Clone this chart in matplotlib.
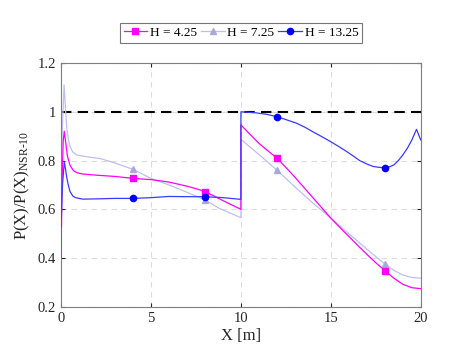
import matplotlib
matplotlib.use("Agg")
import matplotlib.pyplot as plt

plt.rcParams['font.family'] = ['Liberation Serif', 'DejaVu Serif']
plt.rcParams['mathtext.fontset'] = 'custom'
plt.rcParams['mathtext.rm'] = 'Liberation Serif'
plt.rcParams['mathtext.it'] = 'Liberation Serif'

x_h425 = [0, 0.05, 0.12, 0.18, 0.25, 0.35, 0.5, 0.7, 0.9, 1.2, 2, 3, 4, 5, 6, 7, 7.5, 8, 8.5, 9, 9.5, 10,
          10, 10.5, 11, 11.5, 12, 12.5, 13, 13.5, 14, 14.5, 15, 15.5, 16, 16.5, 17, 17.5, 18,
          18.5, 19, 19.5, 20]
y_h425 = [0.40, 0.70, 0.88, 0.92, 0.88, 0.82, 0.78, 0.758, 0.750, 0.745, 0.740, 0.735, 0.727,
          0.722, 0.712, 0.695, 0.685, 0.673, 0.655, 0.636, 0.618, 0.600,
          0.946, 0.908, 0.871, 0.84, 0.81, 0.772, 0.732, 0.69, 0.648, 0.606, 0.564, 0.526,
          0.489, 0.452, 0.416, 0.381, 0.349, 0.318, 0.293, 0.279, 0.275]

x_h725 = [0, 0.08, 0.17, 0.24, 0.31, 0.4, 0.5, 0.65, 0.87, 1.5, 2.2, 3, 4, 5, 6, 7, 8, 8.8, 10,
          10, 10.5, 11, 11.5, 12, 12.5, 13, 13.5, 14, 14.5, 15, 15.5, 16, 16.5, 17, 17.5, 18,
          18.5, 19, 19.5, 20]
y_h725 = [0.72, 0.95, 1.11, 1.02, 0.94, 0.89, 0.857, 0.835, 0.823, 0.815, 0.808, 0.79, 0.764,
          0.727, 0.70, 0.67, 0.639, 0.604, 0.566,
          0.887, 0.856, 0.825, 0.793, 0.761, 0.727, 0.692, 0.659, 0.626, 0.595, 0.564, 0.532,
          0.500, 0.469, 0.437, 0.406, 0.376, 0.35, 0.331, 0.321, 0.318]

x_h1325 = [0, 0.08, 0.18, 0.25, 0.31, 0.4, 0.5, 0.65, 0.8, 1.2, 2, 3, 4, 5, 6, 7, 8, 9, 10,
           10, 10.8, 11.4, 12, 12.5, 13.1, 13.6, 14, 14.5, 15, 15.5, 15.9, 16.3, 16.6, 17, 17.35,
           17.7, 18, 18.25, 18.5, 18.75, 19, 19.25, 19.5, 19.76, 19.94, 20]
y_h1325 = [0.53, 0.70, 0.795, 0.765, 0.734, 0.70, 0.673, 0.655, 0.648, 0.642, 0.643, 0.645,
           0.645, 0.648, 0.653, 0.652, 0.652, 0.648, 0.641,
           1.0, 0.996, 0.99, 0.98, 0.968, 0.953, 0.935, 0.918, 0.898, 0.877, 0.855, 0.836,
           0.816, 0.80, 0.786, 0.776, 0.772, 0.771, 0.774, 0.782, 0.8, 0.823, 0.85, 0.884,
           0.928, 0.895, 0.884]

marker_x = [4, 8, 12, 18]
labels = ['H = 4.25', 'H = 7.25', 'H = 13.25']

def mark_idx(xs):
    idx = []
    for m in marker_x:
        cands = [i for i, v in enumerate(xs) if v == m]
        idx.append(cands[-1])
    return idx

fig = plt.figure(figsize=(4.66, 3.5), dpi=100)
ax = fig.add_axes([0.131, 0.123, 0.772, 0.697])

ax.plot([0, 20], [1, 1], color='black', ls=(0, (5, 3)), lw=1.5, zorder=1)

ax.plot(x_h425, y_h425, color='#FF00FF', lw=0.9, marker='s', ms=4,
        markevery=mark_idx(x_h425), label=labels[0], zorder=3)
ax.plot(x_h725, y_h725, color='#BFBFEF', lw=0.9, marker='^', ms=4.5, mfc='#A9A9D9', mec='#A9A9D9',
        markevery=mark_idx(x_h725), label=labels[1], zorder=2)
ax.plot(x_h1325, y_h1325, color='#3A3AFF', lw=0.9, marker='o', ms=4.5, mfc='#0000FF', mec='#0000FF',
        markevery=mark_idx(x_h1325), label=labels[2], zorder=4)

ax.set_xlim(0, 20)
ax.set_ylim(0.2, 1.2)
ax.set_xticks([0, 5, 10, 15, 20])
ax.set_yticks([0.2, 0.4, 0.6, 0.8, 1.0, 1.2])
ax.set_yticklabels(['0.2', '0.4', '0.6', '0.8', '1', '1.2'])
ax.grid(True, ls=(0, (5, 4)), color='#DDDDDD', lw=0.8)
ax.set_axisbelow(True)
ax.tick_params(direction='in', length=3, labelsize=10.5, colors='#262626', top=True, right=True)
for s in ax.spines.values():
    s.set_color('#7F7F7F')
    s.set_linewidth(0.8)

ax.set_xlabel('X [m]', fontsize=12, color='#262626', labelpad=2)
ax.set_ylabel(r'P(X)/P(X)$_{\mathrm{NSR\text{-}10}}$', fontsize=12, color='#262626', labelpad=4)

leg = ax.legend(loc='center', bbox_to_anchor=(0.5, 1.123), ncol=3, fontsize=9.5,
                frameon=True, fancybox=False, edgecolor='#555555', handlelength=1.8,
                handletextpad=0.2, columnspacing=0.3, borderpad=0.3, borderaxespad=0)
leg.get_frame().set_linewidth(0.8)

fig.savefig('out.png', dpi=100)
